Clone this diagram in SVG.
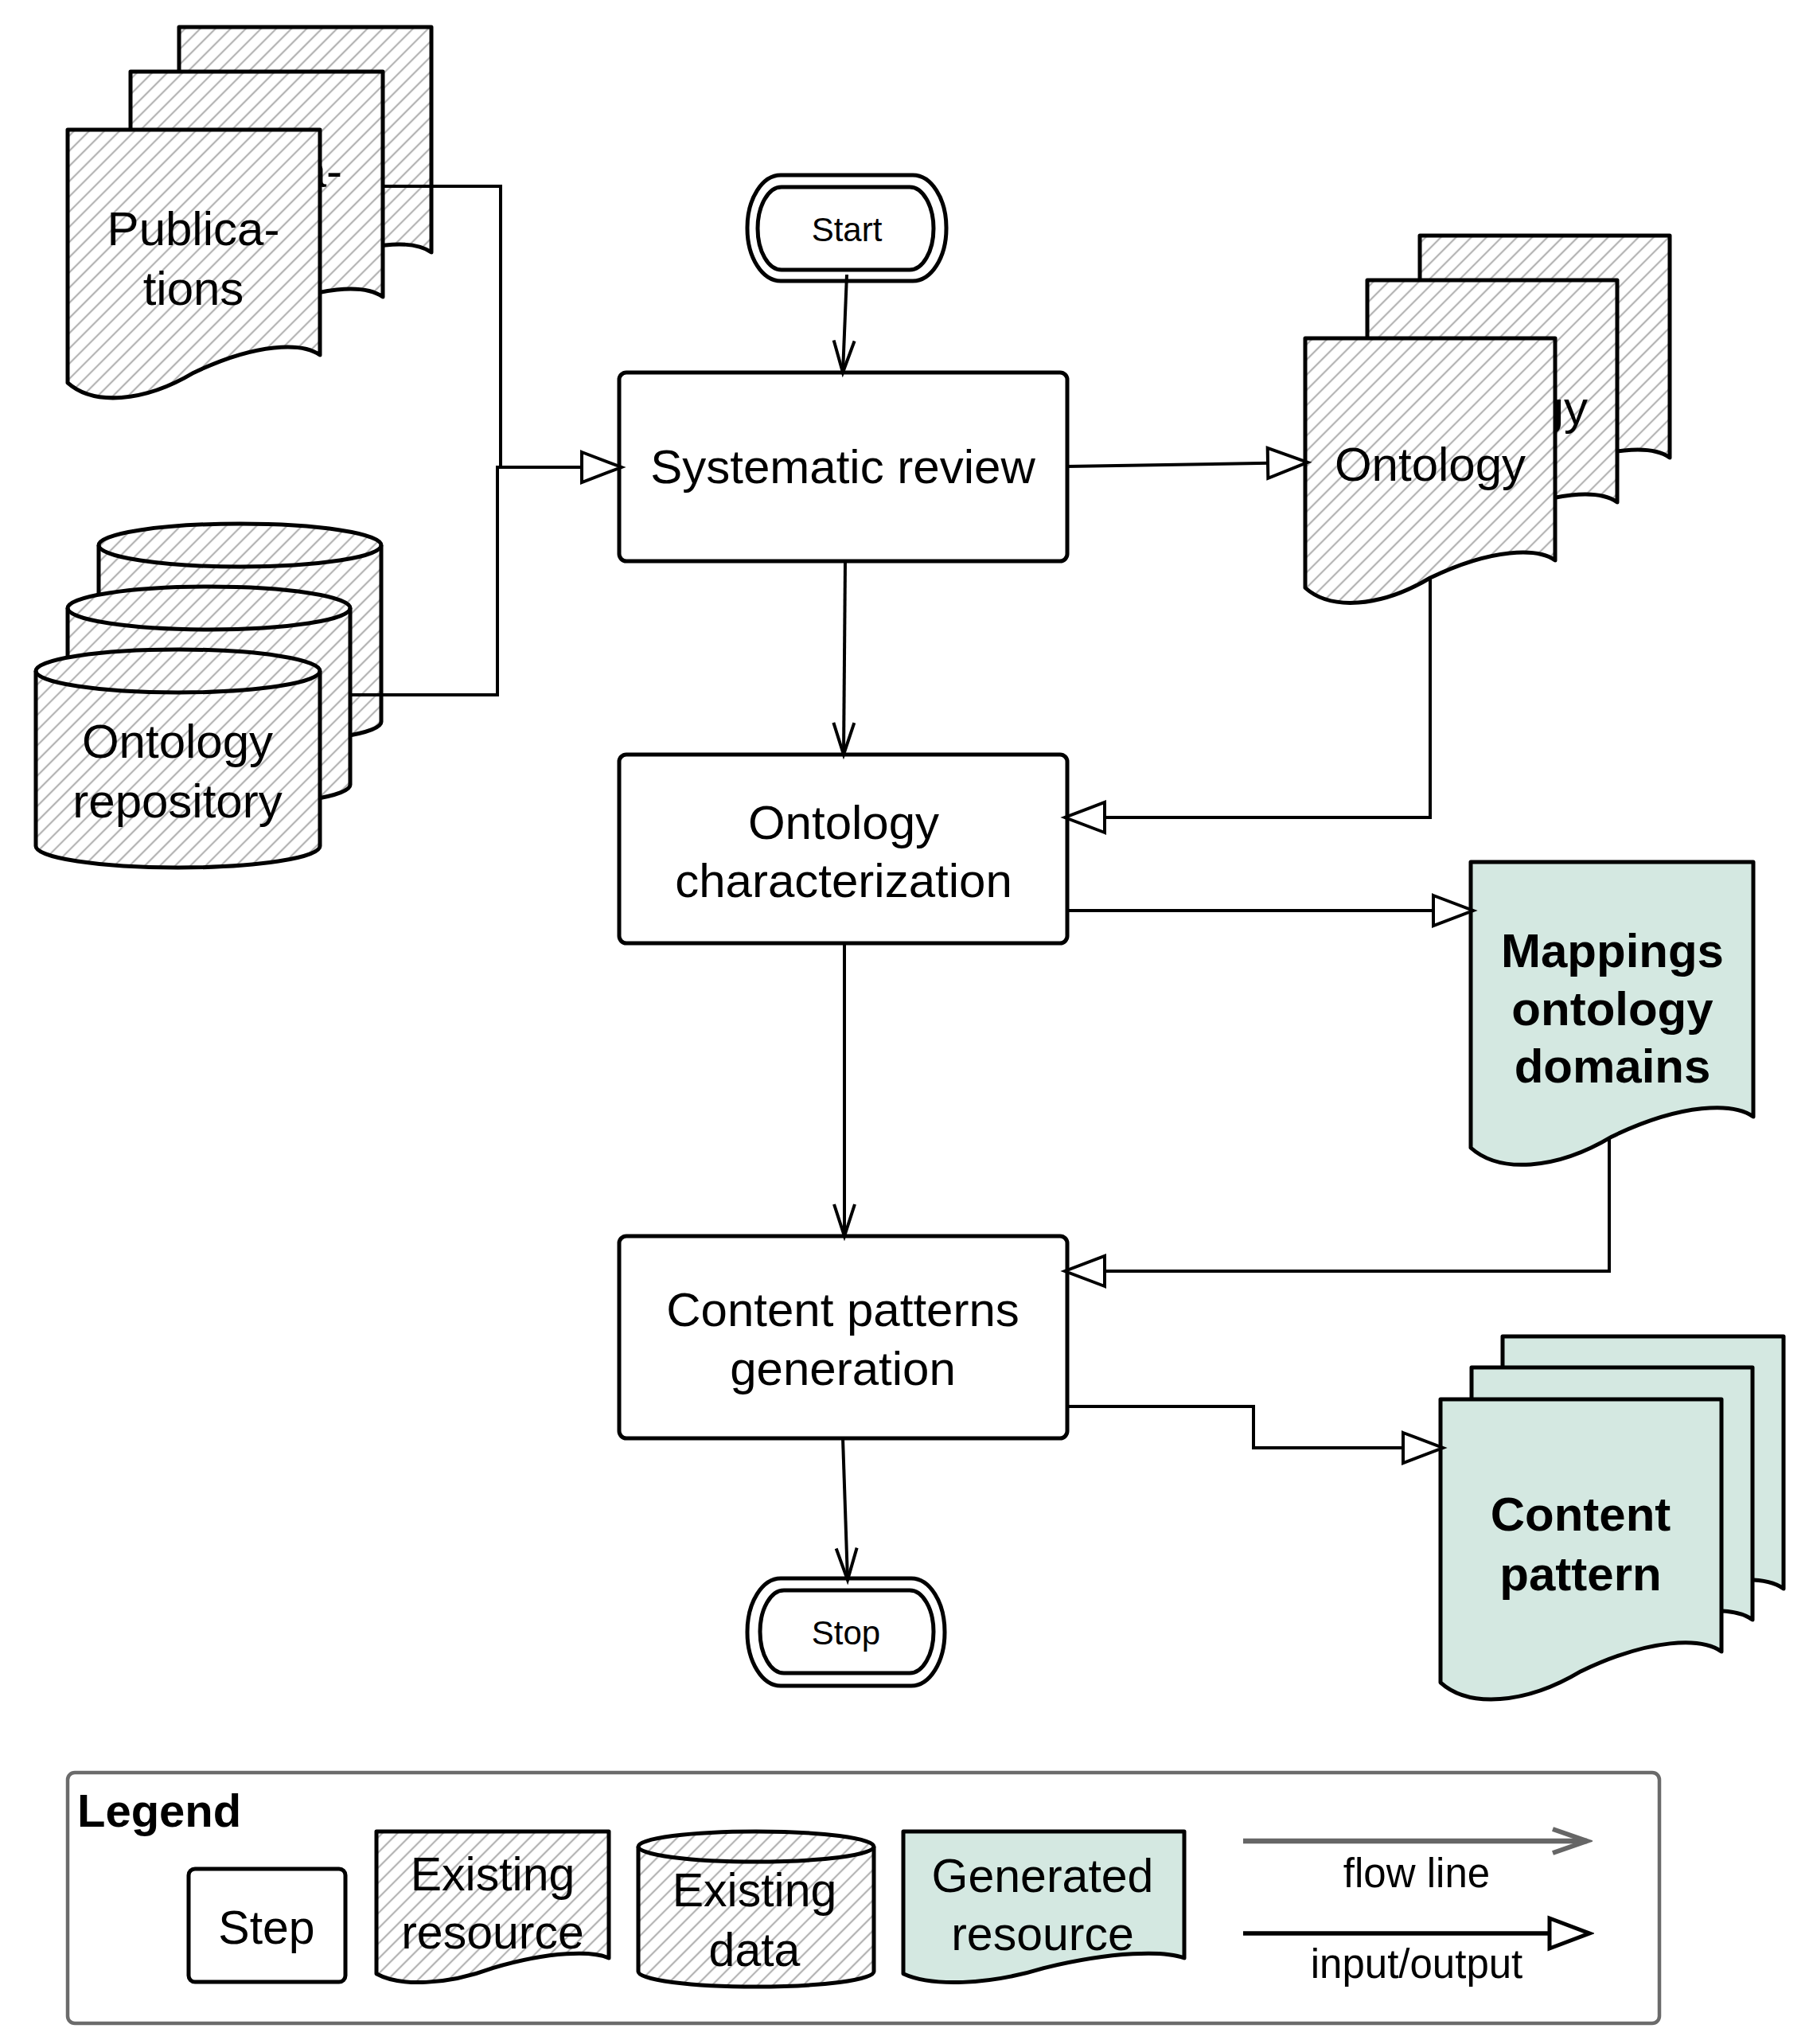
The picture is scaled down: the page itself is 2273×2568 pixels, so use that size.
<svg xmlns="http://www.w3.org/2000/svg" xmlns:xlink="http://www.w3.org/1999/xlink" width="2273" height="2568" viewBox="0 0 2273 2568">
<style>
.hatched{fill:url(#hatch);stroke:#000;stroke-width:5;stroke-linejoin:round}
.gen{fill:#d4e8e1;stroke:#000;stroke-width:5;stroke-linejoin:round}
.step{fill:#fff;stroke:#000;stroke-width:5}
.edge{fill:none;stroke:#000;stroke-width:5}
.conn{fill:none;stroke:#000;stroke-width:4}
.t{font-family:"Liberation Sans",Arial,Helvetica,sans-serif;font-size:60px;text-anchor:middle;fill:#000}
.e{text-anchor:end}
.b{font-weight:bold}
.s{font-size:42px}
.l{font-size:51px}
</style>
<defs>
<pattern id="hatch" patternUnits="userSpaceOnUse" width="13.5" height="13.5" patternTransform="rotate(45)">
<rect width="13.5" height="13.5" fill="#fff"/>
<line x1="6.75" y1="-1" x2="6.75" y2="14.5" stroke="#b3b3b3" stroke-width="2.2"/>
</pattern>
<path id="docPub" d="M0,0 H317 V283 C294.8,267.2 237.8,267.2 158.5,305.2 C95.1,343.2 31.7,346.4 0,317.9 Z"/>
<path id="docOnt" d="M0,0 H314 V279 C292,263.3 235.5,263.3 157,301 C94.2,338.7 31.4,341.8 0,313.5 Z"/>
<path id="docMap" d="M0,0 H355 V320 C330.2,302.3 266.3,302.3 177.5,344.9 C106.5,387.5 35.5,391 0,359 Z"/>
<path id="docCP" d="M0,0 H353 V317 C328.3,299.4 264.8,299.4 176.5,341.7 C105.9,384.1 35.3,387.6 0,355.8 Z"/>
<path id="docLegA" d="M0,0 H292 V159 C271.6,150 219,150 146,171.6 C87.6,193.2 29.2,195 0,178.8 Z"/>
<path id="docLegG" d="M0,0 H353 V159 C328.3,150 264.8,150 176.5,171.6 C105.9,193.2 35.3,195 0,178.8 Z"/>
<marker id="tri" markerUnits="userSpaceOnUse" viewBox="-4 -4 60 46" markerWidth="60" markerHeight="46" refX="47" refY="19" orient="auto">
<path d="M0,0 L50,19 L0,38 Z" fill="#fff" stroke="#000" stroke-width="4"/>
</marker>
<marker id="triL" markerUnits="userSpaceOnUse" viewBox="-4 -4 60 46" markerWidth="60" markerHeight="46" refX="47" refY="19" orient="auto">
<path d="M0,0 L50,19 L0,38 Z" fill="#fff" stroke="#000" stroke-width="5"/>
</marker>
<marker id="vee" markerUnits="userSpaceOnUse" viewBox="-4 -4 50 34" markerWidth="50" markerHeight="34" refX="40" refY="13" orient="auto">
<path d="M0,0 L40,13 L0,26" fill="none" stroke="#000" stroke-width="4"/>
</marker>
<marker id="veeG" markerUnits="userSpaceOnUse" viewBox="-5 -5 55 42" markerWidth="55" markerHeight="42" refX="43" refY="15" orient="auto">
<path d="M0,0 L43,15 L0,30" fill="none" stroke="#666" stroke-width="6"/>
</marker>
</defs>
<rect width="2273" height="2568" fill="#fff"/>

<g id="publications">
<use xlink:href="#docPub" href="#docPub" x="225" y="34" class="hatched"/>
<use xlink:href="#docPub" href="#docPub" x="164" y="90" class="hatched"/>
<text class="t e" x="430" y="235">a-</text>
<use xlink:href="#docPub" href="#docPub" x="85" y="163" class="hatched"/>
<text class="t" x="243" y="308">Publica-</text>
<text class="t" x="243" y="383">tions</text>
</g>

<g id="ontology-repository">
<path class="hatched" d="M124,685 V907 A177.5,27 0 0 0 479,907 V685 A177.5,27 0 0 0 124,685 Z"/>
<path class="edge" d="M124,685 A177.5,27 0 0 0 479,685"/>
<path class="hatched" d="M85,764 V986 A177.5,27 0 0 0 440,986 V764 A177.5,27 0 0 0 85,764 Z"/>
<path class="edge" d="M85,764 A177.5,27 0 0 0 440,764"/>
<path class="hatched" d="M45,843 V1063 A178.5,27 0 0 0 402,1063 V843 A178.5,27 0 0 0 45,843 Z"/>
<path class="edge" d="M45,843 A178.5,27 0 0 0 402,843"/>
<text class="t" x="223" y="952">Ontology</text>
<text class="t" x="223" y="1027">repository</text>
</g>

<g id="start">
<rect class="step" x="939" y="220" width="250" height="133" rx="42" ry="66"/>
<rect class="step" x="952" y="235" width="221" height="104" rx="30" ry="52"/>
<text class="t s" x="1064" y="303">Start</text>
</g>

<g id="systematic-review">
<rect class="step" x="778" y="468" width="563" height="237" rx="9"/>
<text class="t" x="1059" y="607">Systematic review</text>
</g>

<g id="ontology">
<use xlink:href="#docOnt" href="#docOnt" x="1784" y="296" class="hatched"/>
<use xlink:href="#docOnt" href="#docOnt" x="1718" y="352" class="hatched"/>
<text class="t e" x="1995" y="533">gy</text>
<use xlink:href="#docOnt" href="#docOnt" x="1640" y="425" class="hatched"/>
<text class="t" x="1797" y="604">Ontology</text>
</g>

<g id="ontology-characterization">
<rect class="step" x="778" y="948" width="563" height="237" rx="9"/>
<text class="t" x="1060" y="1054">Ontology</text>
<text class="t" x="1060" y="1127">characterization</text>
</g>

<g id="mappings">
<use xlink:href="#docMap" href="#docMap" x="1848" y="1083" class="gen"/>
<text class="t b" x="2026" y="1215">Mappings</text>
<text class="t b" x="2026" y="1288">ontology</text>
<text class="t b" x="2026" y="1360">domains</text>
</g>

<g id="content-patterns-generation">
<rect class="step" x="778" y="1553" width="563" height="254" rx="9"/>
<text class="t" x="1059" y="1666">Content patterns</text>
<text class="t" x="1059" y="1740">generation</text>
</g>

<g id="content-pattern">
<use xlink:href="#docCP" href="#docCP" x="1888" y="1679" class="gen"/>
<use xlink:href="#docCP" href="#docCP" x="1849" y="1718" class="gen"/>
<use xlink:href="#docCP" href="#docCP" x="1810" y="1758" class="gen"/>
<text class="t b" x="1986" y="1923">Content</text>
<text class="t b" x="1986" y="1998">pattern</text>
</g>

<g id="stop">
<rect class="step" x="939" y="1983" width="248" height="135" rx="42" ry="67"/>
<rect class="step" x="955" y="1998" width="218" height="104" rx="30" ry="52"/>
<text class="t s" x="1063" y="2066">Stop</text>
</g>

<g id="connectors">
<polyline class="conn" points="479,234 629,234 629,587"/>
<polyline class="conn" points="440,873 625,873 625,587 778,587" marker-end="url(#tri)"/>
<line class="conn" x1="1064" y1="345" x2="1059" y2="468" marker-end="url(#vee)"/>
<line class="conn" x1="1341" y1="586" x2="1640" y2="581" marker-end="url(#tri)"/>
<line class="conn" x1="1062" y1="705" x2="1060" y2="948" marker-end="url(#vee)"/>
<polyline class="conn" points="1797,728 1797,1027 1341,1027" marker-end="url(#tri)"/>
<line class="conn" x1="1341" y1="1144" x2="1848" y2="1144" marker-end="url(#tri)"/>
<line class="conn" x1="1061" y1="1185" x2="1061" y2="1553" marker-end="url(#vee)"/>
<polyline class="conn" points="2022,1428 2022,1597 1341,1597" marker-end="url(#tri)"/>
<polyline class="conn" points="1341,1767 1575,1767 1575,1819 1810,1819" marker-end="url(#tri)"/>
<line class="conn" x1="1059" y1="1807" x2="1065" y2="1985" marker-end="url(#vee)"/>
</g>

<g id="legend">
<rect x="85" y="2227" width="2000" height="315" rx="9" fill="none" stroke="#6b6b6b" stroke-width="4.5"/>
<text class="t b" x="97" y="2295" style="text-anchor:start;font-size:58px">Legend</text>
<g id="legend-step">
<rect class="step" x="237" y="2348" width="197" height="142" rx="8"/>
<text class="t" x="335" y="2442" style="font-size:59px">Step</text>
</g>
<g id="legend-existing-resource">
<use xlink:href="#docLegA" href="#docLegA" x="473" y="2301" class="hatched"/>
<text class="t" x="619" y="2375" style="font-size:59px">Existing</text>
<text class="t" x="619" y="2448" style="font-size:59px">resource</text>
</g>
<g id="legend-existing-data">
<path class="hatched" d="M802,2320 V2477 A148,19 0 0 0 1098,2477 V2320 A148,19 0 0 0 802,2320 Z"/>
<path class="edge" d="M802,2320 A148,19 0 0 0 1098,2320"/>
<text class="t" x="948" y="2395" style="font-size:59px">Existing</text>
<text class="t" x="948" y="2470" style="font-size:59px">data</text>
</g>
<g id="legend-generated-resource">
<use xlink:href="#docLegG" href="#docLegG" x="1135" y="2301" class="gen"/>
<text class="t" x="1310" y="2377" style="font-size:59px">Generated</text>
<text class="t" x="1310" y="2450" style="font-size:59px">resource</text>
</g>
<g id="legend-flow-line">
<line x1="1562" y1="2313" x2="1994" y2="2313" stroke="#666" stroke-width="6.5" marker-end="url(#veeG)"/>
<text class="t l" x="1780" y="2371">flow line</text>
</g>
<g id="legend-input-output">
<line x1="1562" y1="2429" x2="1994" y2="2429" stroke="#000" stroke-width="5.5" marker-end="url(#triL)"/>
<text class="t l" x="1780" y="2485">input/output</text>
</g>
</g>
</svg>
